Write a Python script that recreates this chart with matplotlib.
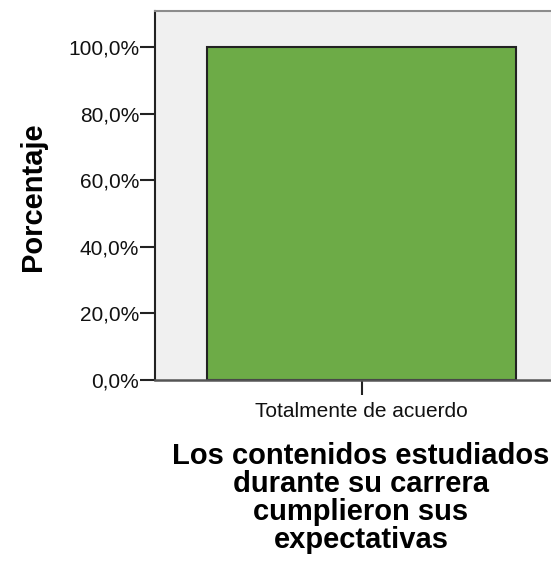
import matplotlib
matplotlib.use("Agg")
import matplotlib.pyplot as plt
from matplotlib.ticker import FuncFormatter

categories = ["Totalmente de acuerdo"]
percentages = [100.0]
yticks = [0, 20, 40, 60, 80, 100]
title = "Los contenidos estudiados\ndurante su carrera\ncumplieron sus\nexpectativas"
ylabel = "Porcentaje"

FONT = "Liberation Sans"

W, H = 551, 561
fig = plt.figure(figsize=(W / 100, H / 100), dpi=100)
fig.patch.set_facecolor("white")

left, right, top, bottom = 155, 568, 11, 380
ax = fig.add_axes([left / W, 1 - bottom / H, (right - left) / W, (bottom - top) / H])
ax.set_facecolor("#F0F0F0")

x = list(range(len(categories)))
ax.bar(x, percentages, width=0.75, color="#6DAB47", edgecolor="#222222", linewidth=1.5, zorder=2)

ax.set_xlim(-0.5, len(categories) - 0.5)
ax.set_ylim(0, 110.9)
ax.set_yticks(yticks)
ax.yaxis.set_major_formatter(FuncFormatter(lambda v, p: f"{v:.1f}".replace(".", ",") + "%"))
ax.set_xticks(x)
ax.set_xticklabels(categories)

ax.spines["left"].set_color("#222222")
ax.spines["left"].set_linewidth(1.5)
ax.spines["bottom"].set_color("#555555")
ax.spines["bottom"].set_linewidth(1.8)
ax.spines["top"].set_color("#8C8C8C")
ax.spines["top"].set_linewidth(1.5)
ax.spines["right"].set_visible(False)

ax.tick_params(axis="both", direction="out", length=10.8, width=1.5, color="#222222",
               labelsize=15, labelcolor="#111111")
ax.tick_params(axis="y", pad=0.7)
ax.tick_params(axis="x", pad=4.8)
for lab in ax.get_xticklabels() + ax.get_yticklabels():
    lab.set_family(FONT)

fig.text(33 / W, 1 - 197 / H, ylabel, rotation=90, ha="center", va="center",
         fontsize=21, fontweight="bold", family=FONT, color="black")
fig.text(361 / W, 1 - 548 / H, title, ha="center", va="baseline", multialignment="center",
         fontsize=21, fontweight="bold", family=FONT, color="black", linespacing=1.0)

fig.savefig("out.png", dpi=100)
